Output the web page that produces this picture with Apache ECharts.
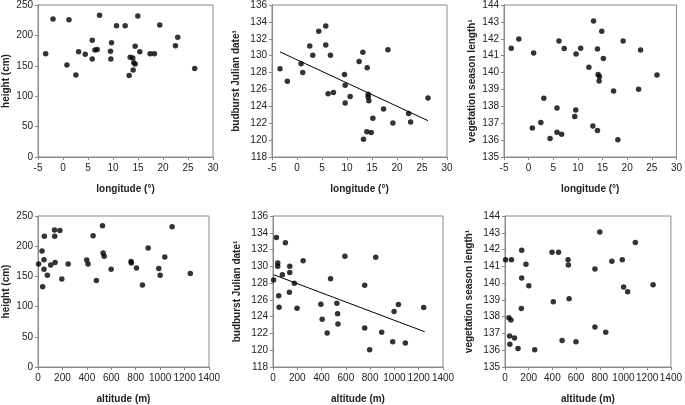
<!DOCTYPE html>
<html>
<head>
<meta charset="utf-8">
<script src="https://cdn.jsdelivr.net/npm/echarts@6/dist/echarts.min.js"></script>
<style>html,body{margin:0;padding:0;background:#fff;}#c{width:685px;height:405px;}</style>
</head>
<body>
<div id="c"></div>
<script>
// Panel 1: longitude vs height
const lon1 = [-3.47,-2.0,0.79,1.19,2.58,3.12,4.45,5.85,5.85,6.38,6.84,7.31,9.5,9.7,9.57,10.7,12.43,13.23,13.43,13.96,14.03,14.16,14.43,14.43,14.96,15.36,17.42,18.29,19.35,22.48,22.94,26.34];
const height1 = [170,227,151.5,225.6,135,173,169,192,161,176,177,233,174,188,161,216,216,134,164,163,143,155,153,182,232,173,170,170,217,183,197,145.6];
// Panel 2: longitude vs budburst
const lon2 = [-3.4,-1.93,0.81,1.15,2.55,3.15,4.35,5.75,5.75,6.22,6.69,7.29,9.5,9.63,9.63,10.63,12.43,13.17,13.3,14.04,13.97,14.24,14.24,14.37,14.84,15.17,17.31,18.18,19.18,22.32,22.72,26.2];
const budburst2 = [128.45,126.96,129.03,128.02,131.15,130.05,132.9,133.5,131.26,125.5,130.05,125.63,127.78,126.49,124.38,125.16,129.3,130.4,120.1,128.56,121.0,125.43,125.12,124.65,120.9,122.6,123.67,130.7,122.03,123.16,122.15,125.0];
const trendLon = [-3.4, 26.2];
const trendLonVal = [130.45, 122.3];
// Panel 3: longitude vs vegetation season length
const lon3 = [-3.53,-1.99,1.01,0.75,2.48,3.08,4.35,5.75,5.75,6.16,6.69,7.22,9.36,9.56,9.63,10.56,12.23,13.17,13.04,13.97,14.1,14.37,14.3,13.97,14.84,15.17,17.24,18.11,19.18,22.32,22.72,26.06];
const veg3 = [141.44,141.99,141.16,136.72,137.05,138.48,136.1,136.47,137.9,141.87,136.35,141.42,137.4,137.78,141.1,141.44,140.31,143.06,136.84,141.4,139.89,139.77,139.5,136.57,142.44,140.83,138.91,136.02,141.87,139.01,141.34,139.85];
// Panel 4: altitude vs height
const alt4 = [5,33,49,49,38,52,77,104,140,137,135,179,195,247,399,410,451,478,528,533,542,599,762,764,806,855,902,989,1000,1038,1098,1247];
const height4 = [170.5,192,177.5,161.8,133,216.5,152,169,173,216.5,226.7,226,145.6,170.5,177,170.5,217.5,143.4,233.8,188.9,183.4,161.8,174.8,172,164,135.8,197,163,152,182,232,155];
// Panel 5: altitude vs budburst
const alt5 = [5,28,102,39,39,77,47,50,138,138,135,176,198,248,394,405,446,474,526,532,535,592,755,755,796,846,895,986,997,1033,1090,1241];
const budburst5 = [128.36,133.43,132.8,130.39,130.0,128.99,126.49,125.13,130.0,129.26,126.92,127.97,125.0,130.66,125.48,123.69,122.05,128.52,125.6,124.35,123.14,131.2,127.74,122.64,120.07,131.09,122.13,121.0,124.62,125.44,120.85,125.1];
const trendAlt = [5, 1250];
const trendAltVal = [129.0, 122.2];
// Panel 6: altitude vs vegetation season length
const alt6 = [5,55,141,177,141,201,138,33,50,39,80,41,110,251,397,452,532,535,408,541,482,599,800,759,759,850,902,990,1001,1035,1100,1250];
const veg6 = [141.39,141.39,141.96,141.12,140.31,139.84,138.49,137.93,137.8,136.85,136.73,136.36,136.1,136.03,141.84,141.84,141.39,141.08,138.89,139.07,136.58,136.5,143.04,140.84,137.39,137.07,141.3,141.39,139.77,139.48,142.42,139.9];

const xNames = ['longitude (°)','longitude (°)','longitude (°)','altitude (m)','altitude (m)','altitude (m)'];
const yNames = ['height (cm)','budburst Julian date¹','vegetation season length¹','height (cm)','budburst Julian date¹','vegetation season length¹'];

const zip = (a,b) => a.map((v,i)=>[v,b[i]]);

const grids = [
  {left:37, top:4, width:176, height:153},
  {left:272, top:4, width:175, height:153},
  {left:504, top:4, width:175, height:153},
  {left:37, top:216, width:172, height:154},
  {left:273, top:216, width:170, height:154},
  {left:505, top:216, width:170, height:154}
].map(g => Object.assign({show:true, borderColor:'#8a8a8a', borderWidth:1, backgroundColor:'transparent'}, g));

const xRanges = [[-5,30,5],[-5,30,5],[-5,30,5],[0,1400,200],[0,1400,200],[0,1400,200]];
const yRanges = [[0,250,50],[118,136,2],[135,144,1],[0,250,50],[118,136,2],[135,144,1]];
const yGaps = [27,31,27,27,31,31];

const labelStyle = {color:'#222', fontSize:10, fontFamily:'Liberation Sans, Arial, sans-serif'};
const nameStyle = {color:'#222', fontSize:10, fontWeight:'bold', fontFamily:'Liberation Sans, Arial, sans-serif'};

const xAxis = xRanges.map((r,i)=>({
  type:'value', gridIndex:i, min:r[0], max:r[1], interval:r[2],
  name:xNames[i], nameLocation:'middle', nameGap:27, nameTextStyle:nameStyle,
  axisLine:{show:true, onZero:false, lineStyle:{color:'#8a8a8a', width:1}},
  axisTick:{show:true, length:3, lineStyle:{color:'#8a8a8a'}},
  axisLabel:Object.assign({margin:6, formatter:v=>String(v), showMinLabel:true, showMaxLabel:true, hideOverlap:false}, labelStyle),
  splitLine:{show:false}
}));
const yAxis = yRanges.map((r,i)=>({
  type:'value', gridIndex:i, min:r[0], max:r[1], interval:r[2],
  name:yNames[i], nameLocation:'middle', nameGap:yGaps[i], nameTextStyle:nameStyle,
  axisLine:{show:true, onZero:false, lineStyle:{color:'#8a8a8a', width:1}},
  axisTick:{show:true, length:3, lineStyle:{color:'#8a8a8a'}},
  axisLabel:Object.assign({margin:5, formatter:v=>String(v), showMinLabel:true, showMaxLabel:true}, labelStyle),
  splitLine:{show:false}
}));

const pts = [zip(lon1,height1), zip(lon2,budburst2), zip(lon3,veg3), zip(alt4,height4), zip(alt5,budburst5), zip(alt6,veg6)];
const series = pts.map((d,i)=>({
  type:'scatter', xAxisIndex:i, yAxisIndex:i, data:d, symbol:'circle', symbolSize:5.5,
  itemStyle:{color:'#000'}, silent:true
}));
series.push({type:'line', xAxisIndex:1, yAxisIndex:1, data:zip(trendLon,trendLonVal), symbol:'none', lineStyle:{color:'#000', width:1}, silent:true});
series.push({type:'line', xAxisIndex:4, yAxisIndex:4, data:zip(trendAlt,trendAltVal), symbol:'none', lineStyle:{color:'#000', width:1}, silent:true});

const chart = echarts.init(document.getElementById('c'), null, {renderer:'canvas'});
chart.setOption({animation:false, backgroundColor:'#fff', grid:grids, xAxis:xAxis, yAxis:yAxis, series:series});
</script>
</body>
</html>
